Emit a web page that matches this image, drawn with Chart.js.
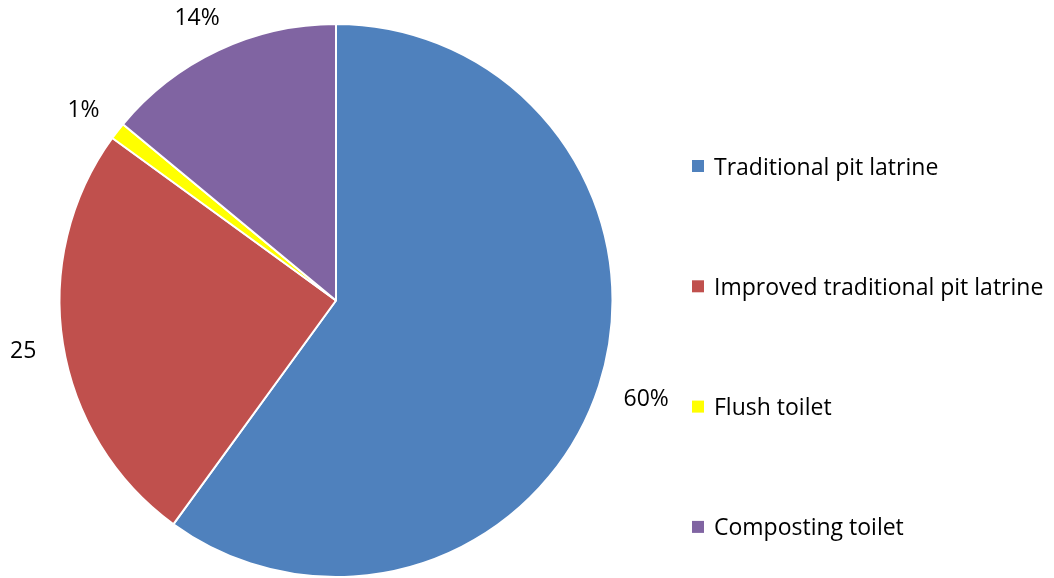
<!DOCTYPE html>
<html>
<head>
<meta charset="utf-8">
<script src="https://cdn.jsdelivr.net/npm/chart.js@4/dist/chart.umd.min.js"></script>
<style>
  html, body { margin: 0; padding: 0; background: #fff; }
  #wrap { width: 1054px; height: 578px; position: relative; }
</style>
</head>
<body>
<div id="wrap"><canvas id="toiletChart"></canvas></div>
<script>
// toilet types and their shares
const categories = ['Traditional pit latrine', 'Improved traditional pit latrine', 'Flush toilet', 'Composting toilet'];
const shares = [60, 25, 1, 14];
const shareLabels = ['60%', '25', '1%', '14%'];
const sliceColors = ['#4F81BD', '#C0504D', '#FFFF00', '#8064A2'];

const FONT = '23px "Open Sans", Lato, sans-serif';

// --- value labels outside each slice ---
// the label box is pushed out along the slice's mid angle so its near edge sits a fixed gap off the rim
const outsideLabels = {
    id: 'outsideLabels',
    afterDatasetsDraw(chart) {
        const ctx = chart.ctx;
        const meta = chart.getDatasetMeta(0);
        const gap = 27, boxH = 20;
        ctx.save();
        ctx.font = FONT;
        ctx.fillStyle = '#000';
        ctx.textAlign = 'center';
        ctx.textBaseline = 'middle';
        meta.data.forEach((arc, i) => {
            const p = arc.getProps(['x', 'y', 'startAngle', 'endAngle', 'outerRadius'], true);
            const mid = (p.startAngle + p.endAngle) / 2;
            const c = Math.cos(mid), s = Math.sin(mid);
            const w = ctx.measureText(shareLabels[i]).width;
            const r = p.outerRadius + gap;
            const x = p.x + c * r + c * w / 2;
            const y = p.y + s * r + s * boxH / 2;
            ctx.fillText(shareLabels[i], x, y + 2);
        });
        ctx.restore();
    }
};

// --- legend on the right, spread out vertically ---
const sideLegend = {
    id: 'sideLegend',
    afterDraw(chart) {
        const ctx = chart.ctx;
        const x0 = 692, y0 = 166, step = 120.3, box = 12;
        ctx.save();
        ctx.font = FONT;
        ctx.textAlign = 'left';
        ctx.textBaseline = 'middle';
        categories.forEach((name, i) => {
            const y = y0 + i * step;
            ctx.fillStyle = sliceColors[i];
            ctx.fillRect(x0, y - box / 2, box, box);
            ctx.fillStyle = '#000';
            ctx.fillText(name, x0 + 22, y + 2);
        });
        ctx.restore();
    }
};

const ctx = document.getElementById('toiletChart').getContext('2d');
new Chart(ctx, {
    type: 'pie',
    data: {
        labels: categories,
        datasets: [{
            data: shares,
            backgroundColor: sliceColors,
            borderColor: '#ffffff',
            borderWidth: 2
        }]
    },
    options: {
        responsive: true,
        maintainAspectRatio: false,
        animation: false,
        layout: { padding: { top: 23, bottom: 0, left: 0, right: 382 } },
        plugins: {
            legend: { display: false },
            tooltip: { enabled: false }
        }
    },
    plugins: [outsideLabels, sideLegend]
});
</script>
</body>
</html>
